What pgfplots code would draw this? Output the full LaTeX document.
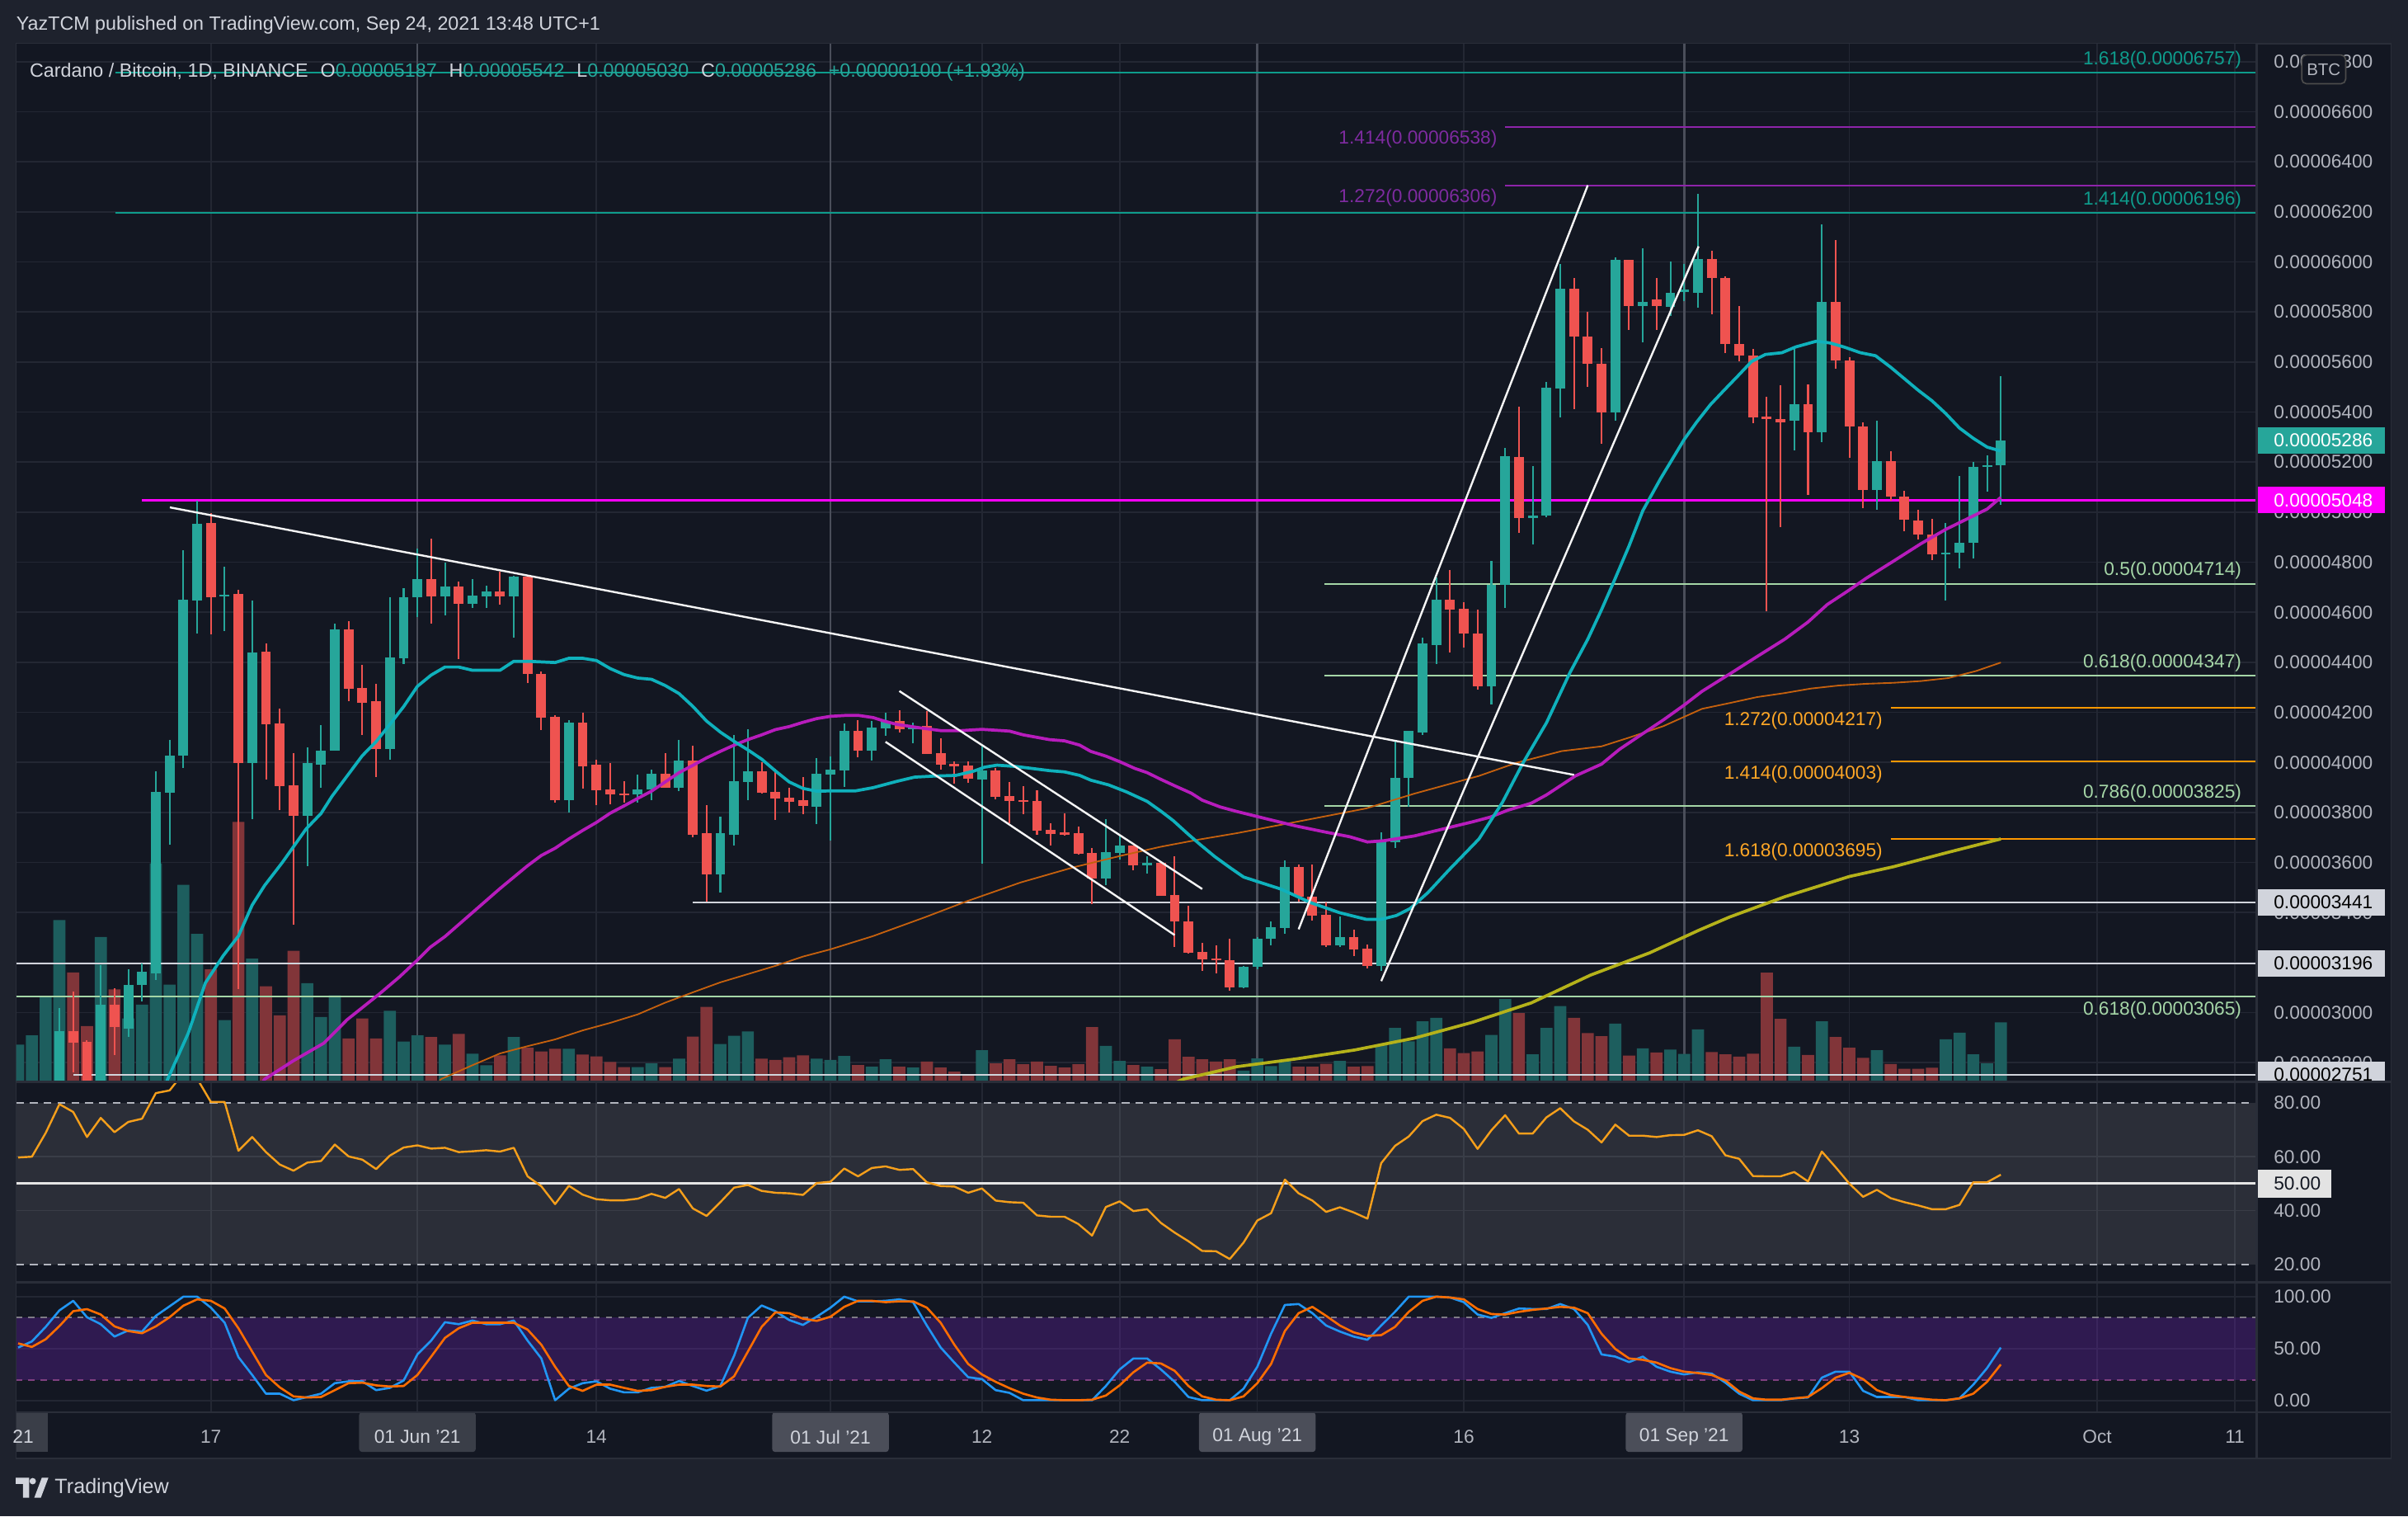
\documentclass[border=0pt]{standalone}
\usepackage{pgfplots}
\pgfplotsset{compat=1.18}
\usepackage{pgfplotstable}
\usepackage{fontspec}
\setmainfont{Liberation Sans}

\definecolor{outerbg}{HTML}{1E222D}
\definecolor{chartbg}{HTML}{131722}
\definecolor{gridc}{HTML}{232733}
\definecolor{sepc}{HTML}{2A2E39}
\definecolor{monthc}{HTML}{4A4E5A}
\definecolor{upc}{HTML}{26A69A}
\definecolor{dnc}{HTML}{EF5350}
\definecolor{volup}{HTML}{1D5E5E}
\definecolor{voldn}{HTML}{813539}
\definecolor{maA}{HTML}{0FB1BC}
\definecolor{maB}{HTML}{B71CBC}
\definecolor{maC}{HTML}{C4600E}
\definecolor{maD}{HTML}{B5B21A}
\definecolor{fibg}{HTML}{A5D6A7}
\definecolor{fibteal}{HTML}{0E9C8C}
\definecolor{fibpur}{HTML}{8E24AA}
\definecolor{fibpurtxt}{HTML}{7E2BA0}
\definecolor{fibor}{HTML}{FF9800}
\definecolor{fibortxt}{HTML}{FFA726}
\definecolor{axtext}{HTML}{B2B5BE}
\definecolor{txt}{HTML}{D1D4DC}
\definecolor{rsic}{HTML}{F59F1B}
\definecolor{kc}{HTML}{2196F3}
\definecolor{dc}{HTML}{FF6D00}
\definecolor{stochfill}{HTML}{7021BB}
\definecolor{dateboxA}{HTML}{3A3E48}
\definecolor{dateboxB}{HTML}{4B4E59}
\definecolor{lvlgray}{HTML}{D1D4DC}
\definecolor{magline}{HTML}{FF00FF}

\newcommand\fs[1]{\fontsize{#1bp}{#1bp}\selectfont}

\pgfplotstableread{
d o h l c v
2 2600 2700 2580 2680 24
3 2680 2715 2650 2700 30
4 2700 2718 2660 2715 55
5 2715 3018 2700 2925 105
8 2715 3189 2700 3032 94
10 2936 3172 2902 3111 41
11 3111 3197 3046 3163 50
12 3157 3965 3132 3881 142
13 3879 4091 3670 4027 63
14 4026 4849 3976 4650 128
15 4646 5047 4514 4952 96
17 4664 4782 4526 4670 40
19 3997 4647 3772 4439 80
23 3786 4060 3587 3997 64
24 3990 4148 3900 4047 42
25 4047 4554 4047 4531 56
29 4055 4660 4010 4419 46
30 4417 4697 4394 4660 26
31 4660 4856 4580 4731 30
33 4664 4798 4588 4702 24
35 4635 4734 4616 4665 18
36 4662 4707 4616 4684 10.5
38 4662 4746 4500 4741 29
42 3849 4169 3801 4160 21.3
47 3871 3951 3838 3893 9.3
48 3893 3972 3849 3956 11.7
50 3900 4091 3885 4006 14.8
53 3554 3782 3481 3716 24.4
54 3712 4109 3669 3926 29.7
55 3922 4131 3849 3966 32.6
60 3822 4018 3753 3954 14.8
61 3951 4025 3688 3970 14
62 3968 4155 3902 4125 16.6
64 4047 4165 4008 4138 9.6
65 4135 4198 4105 4165 14.5
67 4134 4158 4077 4145 9.1
72 3932 4066 3596 3968 20.4
81 3536 3773 3509 3641 23.1
82 3639 3707 3612 3669 13.4
84 3589 3624 3556 3597 9.6
91 3102 3187 3097 3182 7
92 3182 3301 3172 3296 15
93 3294 3366 3270 3340 10
94 3338 3609 3314 3583 13.8
98 3270 3385 3263 3303 13.4
101 3185 3720 3168 3687 24.2
102 3680 4082 3658 3939 34.9
103 3939 4127 3823 4127 26.1
104 4120 4499 4111 4476 39.1
105 4469 4740 4393 4650 41.4
109 4304 4806 4233 4709 30.3
110 4709 5258 4617 5225 53.7
112 4978 5185 4872 4987 17.6
113 4985 5522 4980 5498 34.9
114 5494 5991 5378 5894 49.1
118 5399 6019 5366 6007 37.6
120 5823 6054 5677 5840 21.5
122 5819 6002 5783 5878 20.7
123 5878 5991 5842 5889 17.9
124 5877 6273 5817 6012 33.9
131 5364 5655 5248 5433 22.6
133 5318 6150 5278 5840 39.2
137 5089 5364 5008 5204 20.3
142 4832 4955 4647 4837 27.5
143 4837 5144 4776 4878 31.7
144 4878 5200 4816 5181 17.7
145 5181 5227 5082 5188 11.7
146 5187 5542 5030 5286 38.4
}\up

\pgfplotstableread{
d o h l c v
6 2925 3085 2762 2881 71
7 2884 2889 2700 2715 36
9 3032 3096 2832 2942 60
16 4955 4997 4510 4660 73
18 4672 4688 3094 3997 169
20 4442 4476 3932 4153 62
21 4155 4214 3809 3904 43
22 3907 4036 3352 3785 85
26 4531 4566 4246 4293 28
27 4297 4388 4111 4238 41
28 4245 4313 3940 4052 28
32 4731 4893 4554 4664 29
34 4702 4723 4414 4635 31
37 4684 4763 4631 4662 17
39 4741 4749 4316 4353 22
40 4353 4363 4128 4178 19.6
41 4182 4187 3838 3849 21.3
43 4160 4200 3896 3985 17.5
44 3990 4012 3829 3888 16.3
45 3893 3999 3834 3871 12.7
46 3875 3926 3838 3871 9.3
49 3956 4038 3900 3900 9.3
51 4006 4068 3701 3709 29.2
52 3716 3829 3444 3554 48.6
56 3966 4001 3875 3878 14.8
57 3881 3974 3771 3856 14
58 3859 3897 3801 3841 15.8
59 3849 3940 3793 3826 17
63 4125 4168 4022 4047 10.7
66 4165 4208 4119 4133 9.6
68 4145 4204 4033 4033 12.9
69 4036 4096 3970 3990 9.1
70 3993 4003 3914 3985 6.4
71 3988 4003 3919 3935 4.8
73 3968 3979 3853 3863 11.8
74 3864 3923 3758 3846 14.5
75 3848 3904 3793 3843 11.2
76 3845 3887 3709 3727 12.9
77 3729 3758 3668 3714 10.2
78 3719 3795 3707 3711 9.1
79 3717 3745 3632 3634 11.2
80 3637 3659 3435 3536 35.4
83 3669 3669 3569 3589 10.7
85 3598 3601 3468 3468 8
86 3470 3624 3262 3366 27.4
87 3366 3426 3237 3240 16.1
88 3242 3278 3168 3213 14.5
89 3215 3270 3157 3210 12.9
90 3211 3295 3086 3102 14.5
95 3583 3592 3444 3463 9.6
96 3463 3592 3369 3388 9.6
97 3392 3439 3263 3270 11.5
99 3303 3331 3227 3251 9.6
100 3256 3272 3178 3185 10
106 4650 4768 4438 4612 21.5
107 4615 4641 4459 4516 18.4
108 4516 4610 4292 4304 19.6
111 5220 5423 4916 4975 44.5
115 5894 5934 5411 5703 41.4
116 5703 5802 5501 5592 31.5
117 5592 5654 5274 5399 29.5
119 6007 6007 5729 5823 16.9
121 5849 5934 5729 5823 18.8
125 6012 6046 5792 5935 19.2
126 5935 5942 5637 5672 17.7
127 5672 5822 5602 5625 16.2
128 5625 5653 5357 5380 18.1
129 5382 5461 4605 5371 70.8
130 5371 5507 4941 5359 40.7
132 5433 5510 5070 5318 17.3
134 5840 6088 5572 5607 29
135 5607 5618 5216 5343 21.9
136 5343 5359 5017 5089 15.4
138 5204 5244 5047 5063 11.3
139 5063 5086 4924 4971 8.3
140 4966 5008 4892 4911 8.3
141 4911 4973 4809 4832 9
}\dn

\pgfplotstableread{
d r k dd
2 59.7 51 55
3 60 56.9 51.6
4 68.8 70.9 59
5 79.5 86.8 71.7
6 76.6 96 86
7 67.3 80.2 88
8 74.4 73.5 82.8
9 69.1 61.6 71.4
10 72.9 67.5 66.9
11 74.1 66.4 64.8
12 83.6 81.5 71.4
13 84.6 90.7 80.2
14 91 100 91.3
15 89 100 97.4
16 80.3 89.4 96
17 80.3 74.9 88.6
18 62.2 41.8 69.6
19 67.3 24.6 47.1
20 61.7 6.6 24.6
21 57.1 6.6 12.7
22 54.8 0.3 4
23 57.8 3.4 2.9
24 58.4 6.6 3.4
25 64.5 16.7 10
26 60.1 18.5 16.7
27 58.9 18.5 17.2
28 55.4 10 14.6
29 60.4 12.2 13.5
30 63.4 19.3 14
31 64.2 44.4 24.6
32 63 57.7 42.3
33 63.3 75.4 60.3
34 61.7 73.5 69.6
35 62 77 74.9
36 62.4 73.5 74.9
37 61.9 73.5 74.9
38 63.3 77 74.9
39 52.7 57.7 68.3
40 49 40.5 53.7
41 42.4 0.3 32.5
42 49.2 11.4 14
43 45.9 16.7 9.3
44 44.2 18.5 15.3
45 43.8 11.4 15.3
46 43.8 7.9 12.2
47 44.4 7.9 9.3
48 46.2 12.2 10
49 44.7 13.2 13.2
50 48 18.8 15.3
51 40.8 14 15.3
52 38 9.5 14
53 43.1 14 13.5
54 48.5 43.1 23.3
55 49.5 79.6 47.1
56 47.3 91.5 70.9
57 46.6 86 84.9
58 46.4 77.5 84.1
59 45.8 72.8 78.8
60 50.2 80.7 76.7
61 50.7 89.4 80.7
62 55.6 100 90.2
63 52.7 95.5 96
64 55.8 95.5 96
65 56.4 96 94.7
66 55.1 97.4 95.5
67 55.4 94.7 95.5
68 50.5 72.2 89.4
69 49.1 51.1 74.9
70 48.9 36.5 53.7
71 46.6 22.5 35.2
72 48.2 20.6 25.1
73 43.7 10 18
74 43.1 7.4 11.9
75 42.9 0.3 6.6
76 38.2 0.3 2.9
77 37.7 0.3 0.8
78 37.7 0.3 0.3
79 35 0.3 0.3
80 30.7 0.3 0.8
81 41.3 14 4.8
82 43.4 29.9 14.6
83 39.8 40.5 27.2
84 40.5 40.5 36.5
85 35.4 29.9 35.7
86 31.8 18 28.6
87 28.6 3.4 14
88 25 0.3 4
89 24.9 0.3 0.8
90 22 0.3 0.3
91 28.1 11.4 4
92 36.3 32.5 16.7
93 39 64.3 35.2
94 51.5 92 66.9
95 46.4 92.9 84.1
96 43.7 84.1 90.2
97 39.5 72.2 81.5
98 41.2 66.4 72.2
99 39.3 61.6 65.6
100 37 58.5 62.2
101 57.6 72.2 63
102 64 85.4 70.9
103 67.5 100 85.4
104 73.2 100 96
105 75.6 100 100
106 74.4 99.2 99.2
107 70.3 94.7 97.4
108 62.9 82.8 88.1
109 69.8 79.6 83.3
110 75.4 84.1 82.8
111 68.6 88.6 85.4
112 68.6 88.1 87.3
113 74.6 88.1 88.6
114 78 92.9 90.2
115 73.1 88.1 89.4
116 70 72.8 84.1
117 65.3 44.4 64.3
118 71.9 42.3 49.7
119 67.8 37 40.5
120 67.8 42.3 39.2
121 67.3 32.5 36.5
122 68 27.8 31.2
123 68.1 25.1 27.8
124 69.8 27.2 26.5
125 67.6 25.9 24.6
126 60.5 17.2 19.3
127 59.2 6.6 8.7
128 52.8 0.3 2.1
129 52.7 0.3 0.8
130 52.7 0.3 0.8
131 54.3 2.1 2.1
132 50.8 2.9 3.4
133 61.9 22 11.9
134 56.1 27.8 22
135 50 27.8 26.7
136 45.1 9.3 20.6
137 47.7 3.4 10
138 44.6 3.4 5.3
139 43.1 3.4 3.4
140 41.9 0.3 2.1
141 40.5 0.3 0.8
142 40.5 0.3 0.3
143 42.1 2.1 2.1
144 50.5 15.3 6.6
145 50.5 31.2 18
146 53.3 51 34.7
}\osc

\pgfplotsset{
  tvpane/.style={
    scale only axis, width=1458.9bp, anchor=south west,
    xmin=1.854, xmax=164.58,
    axis line style={draw=none}, tick style={draw=none},
    xticklabels={}, yticklabels={},
    tick label style={text opacity=0, inner sep=0pt},
    xtick={16,31,44,61,72,82,92,107,123,135,153,163},
    xmajorgrids, ymajorgrids,
    major grid style={draw=gridc, line width=0.9bp},
    clip mode=individual,
    axis background/.style={fill=chartbg},
  },
  every axis plot/.append style={line join=round},
}
\tikzset{
  plab/.style={anchor=west, inner sep=0pt, text=axtext, font=\fs{12.2}},
  flab/.style={inner sep=0pt, font=\fs{12.2}},
  dlab/.style={anchor=center, inner sep=0pt, text=axtext, font=\fs{12.2}},
}

\newcommand\pbox[4]{%
  \fill[#2] ([yshift=-8.7bp]axis cs:164.58,#1) rectangle ([xshift=83.6bp,yshift=8.7bp]axis cs:164.58,#1);
  \node[plab, text=#3] at ([xshift=11bp]axis cs:164.58,#1) {#4};}
\newcommand\dbox[3]{%
  \fill[#3, rounded corners=2bp] ([xshift=-38bp]axis cs:#1,-11.24) rectangle ([xshift=38bp,yshift=-25.9bp]axis cs:#1,-11.24);
  \node[dlab, text=txt] at ([yshift=-16.1bp]axis cs:#1,-11.24) {#2};}
\newcommand\dlab[2]{\node[dlab] at ([yshift=-16.1bp]axis cs:#1,-11.24) {#2};}

\begin{document}
\begin{tikzpicture}[x=1bp, y=1bp]
\useasboundingbox (0,0) rectangle (1568,987);
\fill[outerbg] (0,0) rectangle (1568,987);
\fill[chartbg, draw=sepc, line width=1bp] (10.5,37.6) rectangle (1557,958.4);

% ---------------- main price pane ----------------
\begin{axis}[tvpane, at={(10.5bp,283bp)}, height=675.4bp,
  ymin=2725, ymax=6871, ytick={2800,3000,...,6800},
  extra x ticks={31,61,92,123}, extra x tick labels={},
  extra x tick style={grid=major, major grid style={draw=monthc, line width=1.4bp}}]

% volume
\addplot[ybar, bar width=0.88, bar shift=0pt, fill=volup, draw=none] table[x=d, y expr=2725+6.1386*\thisrow{v}] {\up};
\addplot[ybar, bar width=0.88, bar shift=0pt, fill=voldn, draw=none] table[x=d, y expr=2725+6.1386*\thisrow{v}] {\dn};

% horizontal levels
\addplot[draw=lvlgray, line width=1.2bp] coordinates {(1.854,3196) (164.58,3196)};
\addplot[draw=lvlgray, line width=1.2bp] coordinates {(51,3441) (164.58,3441)};
\addplot[draw=lvlgray, line width=1.2bp] coordinates {(6.04,2751) (164.58,2751)};
\addplot[draw=fibg, line width=1.1bp] coordinates {(1.854,3065) (164.58,3065)};
\addplot[draw=fibg, line width=1.1bp] coordinates {(96.9,4714) (164.58,4714)};
\addplot[draw=fibg, line width=1.1bp] coordinates {(96.9,4347) (164.58,4347)};
\addplot[draw=fibg, line width=1.1bp] coordinates {(96.9,3825) (164.58,3825)};
\addplot[draw=fibteal, line width=1.1bp] coordinates {(9.05,6757) (164.58,6757)};
\addplot[draw=fibteal, line width=1.1bp] coordinates {(9.05,6196) (164.58,6196)};
\addplot[draw=fibpur, line width=1.1bp] coordinates {(110,6538) (164.58,6538)};
\addplot[draw=fibpur, line width=1.1bp] coordinates {(110,6306) (164.58,6306)};
\addplot[draw=fibor, line width=1.1bp] coordinates {(138,4217) (164.58,4217)};
\addplot[draw=fibor, line width=1.1bp] coordinates {(138,4003) (164.58,4003)};
\addplot[draw=fibor, line width=1.1bp] coordinates {(138,3695) (164.58,3695)};
\addplot[draw=magline, line width=1.6bp] coordinates {(11.0,5048) (164.58,5048)};

% candles: wicks and bodies
\addplot[draw=none, mark=none, error bars/.cd, y dir=both, y explicit, error mark=none,
  error bar style={draw=upc, line width=1.1bp}]
  table[x=d, y expr=(\thisrow{h}+\thisrow{l})/2, y error expr=(\thisrow{h}-\thisrow{l})/2] {\up};
\addplot[draw=none, mark=none, error bars/.cd, y dir=both, y explicit, error mark=none,
  error bar style={draw=dnc, line width=1.1bp}]
  table[x=d, y expr=(\thisrow{h}+\thisrow{l})/2, y error expr=(\thisrow{h}-\thisrow{l})/2] {\dn};
\addplot[draw=none, mark=none, error bars/.cd, y dir=both, y explicit, error mark=none,
  error bar style={draw=upc, line width=6.4bp}]
  table[x=d, y expr=(\thisrow{o}+\thisrow{c})/2, y error expr={max(abs(\thisrow{c}-\thisrow{o})/2,3.5)}] {\up};
\addplot[draw=none, mark=none, error bars/.cd, y dir=both, y explicit, error mark=none,
  error bar style={draw=dnc, line width=6.4bp}]
  table[x=d, y expr=(\thisrow{o}+\thisrow{c})/2, y error expr={max(abs(\thisrow{c}-\thisrow{o})/2,3.5)}] {\dn};

% moving averages
\addplot[draw=maC, line width=1bp] coordinates {(32.3,2700) (32.7,2734) (35,2790) (37,2837) (39,2866) (41,2893) (43,2929) (45,2959) (47,2993) (49,3040) (51,3081) (53,3121) (55,3154) (57,3187) (59,3224) (61,3253) (64.1,3306) (67.9,3382) (70.9,3445) (74.8,3520) (78.6,3580) (82.1,3627) (85,3663) (87.8,3692) (90.5,3717) (94.8,3762) (99.9,3816) (103.4,3875) (108.1,3946) (110.8,3998) (114.1,4045) (117,4064) (119,4099) (121.5,4145) (124.3,4214) (126.3,4237) (128.3,4261) (130.3,4277) (132.2,4295) (134.2,4307) (136.2,4314) (138.2,4318) (140.2,4325) (142.2,4337) (144.2,4365) (146,4399)};
\addplot[draw=maD, line width=2bp] coordinates {(85.5,2705) (86.6,2734) (90.5,2784) (94.8,2815) (99.1,2851) (103.4,2898) (107.6,2961) (111.9,3039) (116.2,3150) (120.5,3239) (124.1,3330) (126.3,3382) (130.3,3463) (135,3544) (138.2,3583) (142.2,3641) (146,3694)};
\addplot[draw=maB, line width=2bp] coordinates {(19.5,2700) (19.9,2734) (22,2808) (24.2,2878) (25.9,2972) (28.2,3073) (29.7,3143) (30.9,3205) (31.9,3260) (33,3304) (35,3400) (37,3496) (39,3587) (40,3628) (41,3657) (42,3694) (43,3728) (44,3760) (45,3797) (46,3826) (47,3856) (48,3885) (49,3922) (50,3959) (51,3988) (52,4018) (53,4044) (54,4069) (55,4091) (56,4110) (57,4131) (58,4143) (59,4160) (60,4175) (61,4184) (62.2,4188) (63,4188) (64.1,4179) (64.9,4165) (65.8,4152) (67.5,4138) (69,4127) (70.5,4127) (72,4132) (74,4125) (75,4110) (76.9,4091) (78,4086) (79.1,4069) (79.9,4044) (81,4025) (82,4003) (83.1,3976) (84,3959) (85,3932) (86.1,3904) (87.2,3877) (88,3849) (89.3,3822) (90.5,3804) (92.7,3774) (94.8,3746) (96.9,3722) (98.7,3703) (100,3682) (101.2,3687) (103.4,3706) (105.5,3734) (107.6,3762) (108.9,3781) (110.2,3809) (111.9,3837) (113,3870) (115.1,3946) (117,3993) (118.3,4052) (120,4115) (121.5,4170) (123,4229) (124.3,4284) (126.3,4353) (128.3,4423) (130.3,4492) (132,4561) (133.4,4631) (135,4689) (136.2,4735) (138.2,4804) (140.2,4874) (142,4931) (144,4985) (145,5012) (146,5059)};
\addplot[draw=maA, line width=2bp] coordinates {(12.5,2680) (12.86,2734) (14.35,2917) (15.6,3119) (16.9,3228) (18,3306) (19,3430) (19.9,3508) (21.2,3601) (22,3663) (22.9,3733) (24,3796) (24.8,3865) (25.9,3946) (27,4027) (28,4083) (28.9,4145) (30,4223) (31,4304) (32,4349) (33,4381) (34,4381) (35,4368) (37,4368) (38,4404) (39,4404) (41,4399) (42,4416) (43,4416) (44,4407) (45,4375) (46,4351) (47,4337) (48,4332) (49,4307) (50,4275) (51,4224) (52,4165) (53,4121) (54,4084) (55,4050) (56,4013) (57,3966) (58,3922) (59,3896) (60,3885) (61,3886) (62.8,3886) (64.1,3899) (65.8,3924) (67.1,3941) (68.4,3945) (70.1,3948) (71.4,3965) (72.2,3981) (73.1,3989) (74.4,3984) (75.6,3976) (76.9,3967) (78,3962) (79.1,3948) (79.9,3929) (81.2,3910) (82.5,3882) (84,3844) (85,3805) (85.9,3767) (87,3712) (87.8,3674) (88.9,3624) (90,3580) (91,3542) (92,3524) (93.7,3494) (95.9,3439) (98,3399) (99.9,3373) (101,3373) (102.1,3388) (103.1,3416) (104.4,3480) (105.9,3569) (108.1,3694) (109.8,3840) (111.3,3998) (113,4158) (114.7,4358) (116,4492) (117,4610) (117.9,4723) (119,4865) (120,5006) (121.3,5135) (123,5290) (123.9,5359) (124.9,5429) (125.9,5487) (126.9,5544) (127.9,5602) (128.9,5630) (130.1,5637) (131.1,5660) (132.6,5683) (133.6,5676) (134.6,5660) (135.8,5637) (136.9,5625) (138,5579) (139,5533) (140,5487) (141,5445) (142,5394) (143,5336) (144,5295) (145,5260) (146,5244)};

% trend lines
\addplot[draw=white!92!gray, line width=1.3bp] coordinates {(13.02,5019) (115.0,3950)};
\addplot[draw=white!92!gray, line width=1.3bp] coordinates {(66.0,4285) (88.0,3494)};
\addplot[draw=white!92!gray, line width=1.3bp] coordinates {(65.0,4082) (86.0,3310)};
\addplot[draw=white!92!gray, line width=1.3bp] coordinates {(95.0,3333) (116.0,6306)};
\addplot[draw=white!92!gray, line width=1.3bp] coordinates {(101.0,3126) (124.05,6062)};

% fib labels
\node[flab, anchor=south east, text=fibteal] at ([yshift=2.5bp]axis cs:163.5,6757) {1.618(0.00006757)};
\node[flab, anchor=south east, text=fibteal] at ([yshift=2.5bp]axis cs:163.5,6196) {1.414(0.00006196)};
\node[flab, anchor=north east, text=fibpurtxt] at ([yshift=-2bp]axis cs:109.44,6538) {1.414(0.00006538)};
\node[flab, anchor=north east, text=fibpurtxt] at ([yshift=-2bp]axis cs:109.44,6306) {1.272(0.00006306)};
\node[flab, anchor=south east, text=fibg] at ([yshift=2.5bp]axis cs:163.5,4714) {0.5(0.00004714)};
\node[flab, anchor=south east, text=fibg] at ([yshift=2.5bp]axis cs:163.5,4347) {0.618(0.00004347)};
\node[flab, anchor=south east, text=fibg] at ([yshift=2.5bp]axis cs:163.5,3825) {0.786(0.00003825)};
\node[flab, anchor=north east, text=fibg] at ([yshift=-3bp]axis cs:163.5,3065) {0.618(0.00003065)};
\node[flab, anchor=north east, text=fibortxt] at ([yshift=-2.5bp]axis cs:137.43,4217) {1.272(0.00004217)};
\node[flab, anchor=north east, text=fibortxt] at ([yshift=-2.5bp]axis cs:137.43,4003) {1.414(0.00004003)};
\node[flab, anchor=north east, text=fibortxt] at ([yshift=-2.5bp]axis cs:137.43,3695) {1.618(0.00003695)};

% price scale
\node[plab] at ([xshift=11bp]axis cs:164.58,6800) {0.00006800};
\node[plab] at ([xshift=11bp]axis cs:164.58,6600) {0.00006600};
\node[plab] at ([xshift=11bp]axis cs:164.58,6400) {0.00006400};
\node[plab] at ([xshift=11bp]axis cs:164.58,6200) {0.00006200};
\node[plab] at ([xshift=11bp]axis cs:164.58,6000) {0.00006000};
\node[plab] at ([xshift=11bp]axis cs:164.58,5800) {0.00005800};
\node[plab] at ([xshift=11bp]axis cs:164.58,5600) {0.00005600};
\node[plab] at ([xshift=11bp]axis cs:164.58,5400) {0.00005400};
\node[plab] at ([xshift=11bp]axis cs:164.58,5200) {0.00005200};
\node[plab] at ([xshift=11bp]axis cs:164.58,5000) {0.00005000};
\node[plab] at ([xshift=11bp]axis cs:164.58,4800) {0.00004800};
\node[plab] at ([xshift=11bp]axis cs:164.58,4600) {0.00004600};
\node[plab] at ([xshift=11bp]axis cs:164.58,4400) {0.00004400};
\node[plab] at ([xshift=11bp]axis cs:164.58,4200) {0.00004200};
\node[plab] at ([xshift=11bp]axis cs:164.58,4000) {0.00004000};
\node[plab] at ([xshift=11bp]axis cs:164.58,3800) {0.00003800};
\node[plab] at ([xshift=11bp]axis cs:164.58,3600) {0.00003600};
\node[plab] at ([xshift=11bp]axis cs:164.58,3400) {0.00003400};
\node[plab] at ([xshift=11bp]axis cs:164.58,3000) {0.00003000};
\node[plab] at ([xshift=11bp]axis cs:164.58,2800) {0.00002800};
\pbox{5286}{upc}{white}{0.00005286}
\pbox{5048}{magline}{white}{0.00005048}
\pbox{3441}{lvlgray}{black}{0.00003441}
\pbox{3196}{lvlgray}{black}{0.00003196}
\fill[lvlgray] ([yshift=-4.2bp]axis cs:164.58,2751) rectangle ([xshift=83.6bp,yshift=8.7bp]axis cs:164.58,2751);
\node[plab, text=black] at ([xshift=11bp]axis cs:164.58,2751) {0.00002751};
\end{axis}

% ---------------- RSI pane ----------------
\begin{axis}[tvpane, at={(10.5bp,152.3bp)}, height=129.7bp, ymin=13.38, ymax=87.36, ytick={40,60}]
\fill[white, fill opacity=0.1] (axis cs:1.854,20) rectangle (axis cs:164.58,80);
\addplot[draw=axtext, line width=1.3bp, dash pattern=on 5bp off 4bp] coordinates {(1.854,80) (164.58,80)};
\addplot[draw=axtext, line width=1.3bp, dash pattern=on 5bp off 4bp] coordinates {(1.854,20) (164.58,20)};
\addplot[draw=white!80!gray, line width=1.6bp] coordinates {(1.854,50) (164.58,50)};
\addplot[draw=rsic, line width=1.3bp] table[x=d, y=r] {\osc};
\node[plab] at ([xshift=11bp]axis cs:164.58,80) {80.00};
\node[plab] at ([xshift=11bp]axis cs:164.58,60) {60.00};
\node[plab] at ([xshift=11bp]axis cs:164.58,40) {40.00};
\node[plab] at ([xshift=11bp]axis cs:164.58,20) {20.00};
\fill[white!78!gray] ([yshift=-9bp]axis cs:164.58,50) rectangle ([xshift=48.4bp,yshift=9bp]axis cs:164.58,50);
\node[plab, text=chartbg] at ([xshift=11bp]axis cs:164.58,50) {50.00};
\end{axis}

% ---------------- Stoch RSI pane ----------------
\begin{axis}[tvpane, at={(10.5bp,67.7bp)}, height=83.8bp, ymin=-11.24, ymax=112.7, ytick={0,50,100}]
\fill[stochfill, fill opacity=0.3] (axis cs:1.854,20) rectangle (axis cs:164.58,80);
\addplot[draw=gray!70!white, line width=1.2bp, dash pattern=on 4bp off 4bp, opacity=0.7] coordinates {(1.854,80) (164.58,80)};
\addplot[draw=violet!50!gray, line width=1.2bp, dash pattern=on 4bp off 4bp] coordinates {(1.854,20) (164.58,20)};
\addplot[draw=kc, line width=1.4bp] table[x=d, y=k] {\osc};
\addplot[draw=dc, line width=1.4bp] table[x=d, y=dd] {\osc};
\node[plab] at ([xshift=11bp]axis cs:164.58,100) {100.00};
\node[plab] at ([xshift=11bp]axis cs:164.58,50) {50.00};
\node[plab] at ([xshift=11bp]axis cs:164.58,0) {0.00};
% date axis
\fill[dateboxA] (axis cs:1.854,-11.24) rectangle ([yshift=-25.9bp]axis cs:4.16,-11.24);
\node[dlab, anchor=east, text=txt] at ([yshift=-16.1bp]axis cs:3.14,-11.24) {21};
\dlab{16}{17}
\dbox{31}{01 Jun '21}{dateboxA}
\dlab{44}{14}
\dbox{61}{01 Jul '21}{dateboxB}
\dlab{72}{12}
\dlab{82}{22}
\dbox{92}{01 Aug '21}{dateboxB}
\dlab{107}{16}
\dbox{123}{01 Sep '21}{dateboxB}
\dlab{135}{13}
\dlab{153}{Oct}
\dlab{163}{11}
\end{axis}

% separators
\draw[sepc, line width=1.6bp] (10.5,282.6) -- (1557,282.6);
\draw[sepc, line width=1.6bp] (10.5,152) -- (1557,152);
\draw[sepc, line width=1.2bp] (10.5,67.7) -- (1557,67.7);
\draw[sepc, line width=1.2bp] (1469.4,37.6) -- (1469.4,958.4);

% BTC box
\draw[rounded corners=3bp, draw=gray!60!black, fill=chartbg, line width=0.9bp] (1498.8,932.5) rectangle (1527.4,951.2);
\node[inner sep=0pt, text=axtext, font=\fs{11}] at (1513.1,941.9) {BTC};

% header
\node[anchor=base west, inner sep=0pt, text=txt, font=\fs{12.5}] at (10.5,967.3) {YazTCM published on TradingView.com, Sep 24, 2021 13:48 UTC+1};
\node[anchor=base west, inner sep=0pt, text=txt, font=\fs{12.5}] at (19.2,936.9) {Cardano / Bitcoin, 1D, BINANCE\hspace{8bp}O\textcolor{upc}{0.00005187}\hspace{8bp}H\textcolor{upc}{0.00005542}\hspace{8bp}L\textcolor{upc}{0.00005030}\hspace{8bp}C\textcolor{upc}{0.00005286}\hspace{8bp}\textcolor{upc}{+0.00000100 (+1.93\%)}};

% footer logo
\fill[txt] (10.3,25) -- (19,25) -- (19,12) -- (15,12) -- (15,21) -- (10.3,21) -- cycle;
\fill[txt] (21.3,22.8) circle (2.1);
\fill[txt] (22.3,12) -- (26.6,12) -- (31.5,25) -- (27.2,25) -- cycle;
\node[anchor=west, inner sep=0pt, text=txt, font=\fs{13.5}] at (35.5,18.5) {TradingView};
\end{tikzpicture}
\end{document}
